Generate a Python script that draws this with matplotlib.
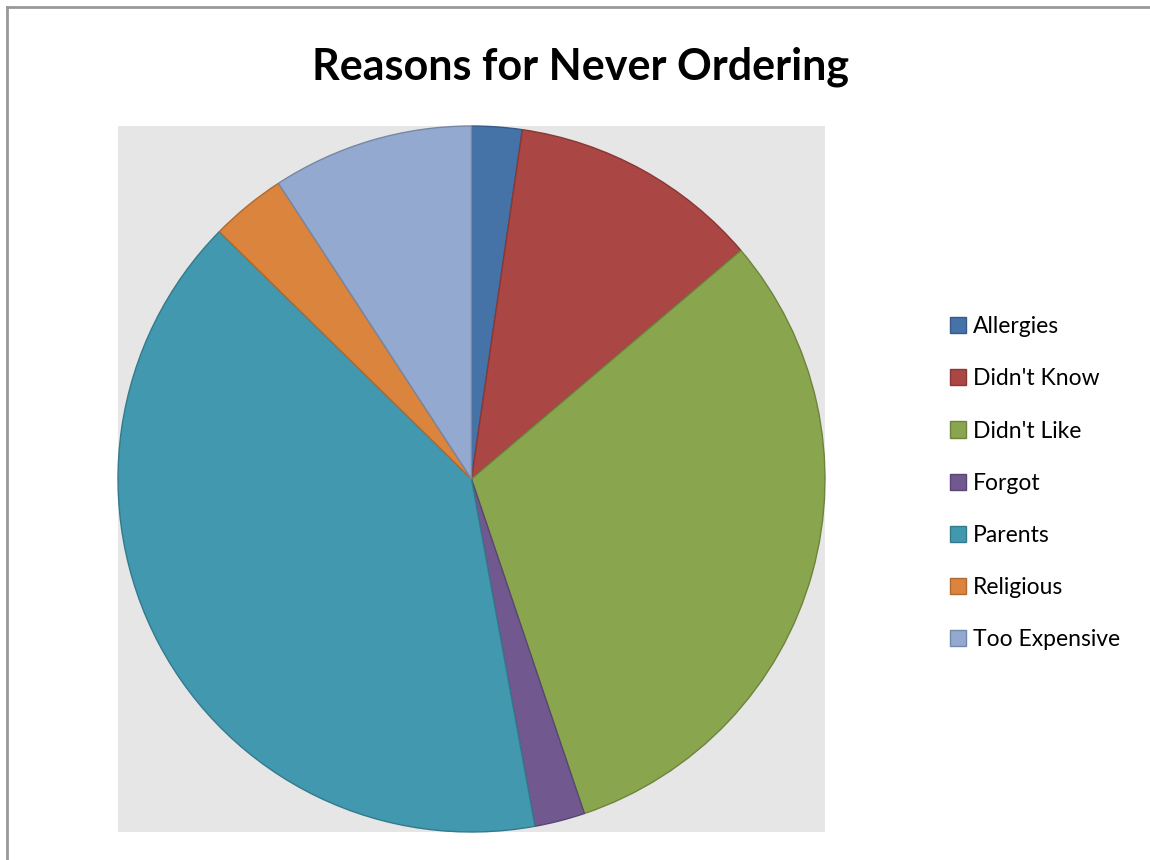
import matplotlib.pyplot as plt
from matplotlib.patches import Patch
from matplotlib.lines import Line2D
import matplotlib.colors as mcolors

plt.rcParams['font.family'] = ['Lato', 'DejaVu Sans']

reasons = ["Allergies", "Didn't Know", "Didn't Like", "Forgot",
           "Parents", "Religious", "Too Expensive"]
counts = [2, 10, 27, 2, 35, 3, 8]
colors = ['#4572A7', '#AA4643', '#89A54E', '#71588F',
          '#4198AF', '#DB843D', '#93A9CF']

def darker(c, f=0.8):
    r, g, b = mcolors.to_rgb(c)
    return (r * f, g * f, b * f)

fig = plt.figure(figsize=(11.5, 8.6), dpi=100)
ax = fig.add_axes([118/1150, 28/860, 707/1150, 706/860])
ax.set_facecolor('#e6e6e6')

wedges, _ = ax.pie(counts, colors=colors, startangle=90, counterclock=False,
                   radius=1.0, frame=True,
                   wedgeprops=dict(linewidth=1.0))
for w, c in zip(wedges, colors):
    w.set_edgecolor(darker(c))
ax.set_xlim(-1.0, 1.0)
ax.set_ylim(-1.0, 1.0)
ax.set_aspect('auto')
ax.set_xticks([])
ax.set_yticks([])
for s in ax.spines.values():
    s.set_visible(False)

fig.text(581/1150, 1 - 67/860, "Reasons for Never Ordering",
         ha='center', va='center', fontsize=31, fontweight='bold')

handles = [Patch(facecolor=c, edgecolor=darker(c), linewidth=1.0) for c in colors]
fig.legend(handles, reasons, loc='upper left',
           bbox_to_anchor=(941/1150, 1 - 307/860), frameon=False,
           fontsize=16.5, handlelength=0.7, handleheight=0.7,
           handletextpad=0.3, labelspacing=1.36, borderaxespad=0)

# outer frame: left and top edges only
fig.add_artist(Line2D([7/1150, 7/1150], [0, 1 - 7/860], transform=fig.transFigure,
                      color='#999999', linewidth=2))
fig.add_artist(Line2D([7/1150, 1], [1 - 7/860, 1 - 7/860], transform=fig.transFigure,
                      color='#999999', linewidth=2))

fig.savefig('out.png', dpi=100, facecolor='white')
